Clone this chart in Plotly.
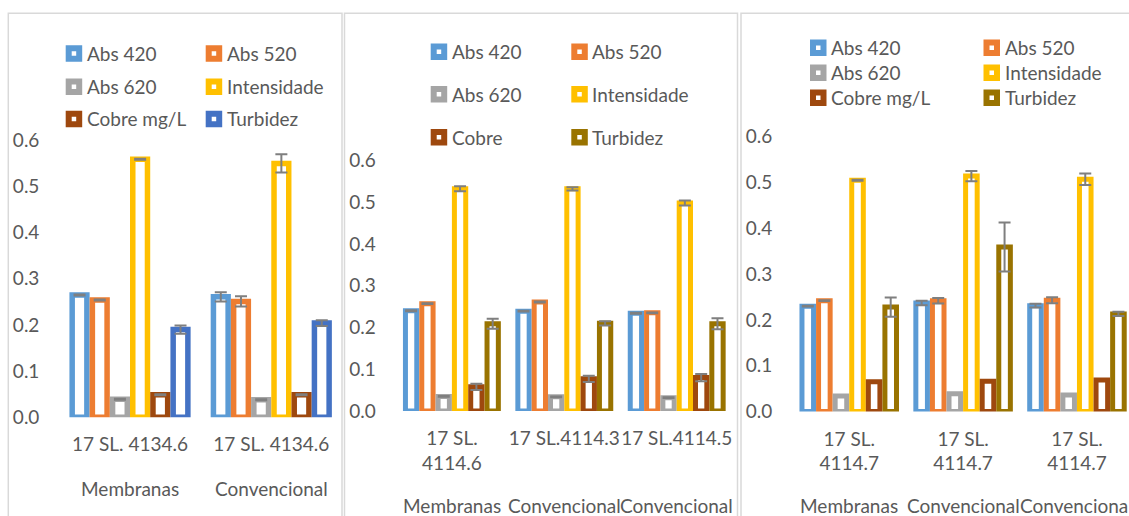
import plotly.graph_objects as go

W, H = 1129, 516

# ---- data -------------------------------------------------------------
series_names_a = ["Abs 420", "Abs 520", "Abs 620", "Intensidade", "Cobre mg/L", "Turbidez"]
series_names_b = ["Abs 420", "Abs 520", "Abs 620", "Intensidade", "Cobre", "Turbidez"]

# panel 1
samples_1 = ["17 SL. 4134.6", "17 SL. 4134.6"]
groups_1 = ["Membranas", "Convencional"]
abs420_1 = [0.265, 0.261]
abs520_1 = [0.254, 0.251]
abs620_1 = [0.039, 0.038]
intens_1 = [0.559, 0.550]
cobre_1 = [0.049, 0.049]
turb_1 = [0.190, 0.204]
abs420_err_1 = [0.001, 0.010]
abs520_err_1 = [0.001, 0.011]
abs620_err_1 = [0.001, 0.001]
intens_err_1 = [0.001, 0.020]
cobre_err_1 = [0.001, 0.001]
turb_err_1 = [0.009, 0.006]

# panel 2
samples_2 = ["17 SL.<br>4114.6", "17 SL.4114.3", "17 SL.4114.5"]
groups_2 = ["Membranas", "Convencional", "Convencional"]
abs420_2 = [0.240, 0.239, 0.234]
abs520_2 = [0.257, 0.261, 0.235]
abs620_2 = [0.035, 0.034, 0.032]
intens_2 = [0.532, 0.532, 0.498]
cobre_2 = [0.058, 0.077, 0.080]
turb_2 = [0.209, 0.210, 0.209]
abs420_err_2 = [0.001, 0.001, 0.001]
abs520_err_2 = [0.001, 0.001, 0.001]
abs620_err_2 = [0.001, 0.001, 0.001]
intens_err_2 = [0.006, 0.004, 0.006]
cobre_err_2 = [0.0075, 0.0075, 0.0085]
turb_err_2 = [0.012, 0.005, 0.013]

# panel 3
samples_3 = ["17 SL.<br>4114.7", "17 SL.<br>4114.7", "17 SL.<br>4114.7"]
groups_3 = ["Membranas", "Convencional", "Convencional"]
abs420_3 = [0.230, 0.237, 0.231]
abs520_3 = [0.242, 0.242, 0.243]
abs620_3 = [0.034, 0.039, 0.036]
intens_3 = [0.505, 0.514, 0.507]
cobre_3 = [0.065, 0.066, 0.069]
turb_3 = [0.228, 0.359, 0.213]
abs420_err_3 = [0.001, 0.005, 0.004]
abs520_err_3 = [0.001, 0.006, 0.0065]
abs620_err_3 = None
intens_err_3 = [0.001, 0.011, 0.0127]
cobre_err_3 = None
turb_err_3 = [0.021, 0.0535, 0.0047]

y_ticks = [0.0, 0.1, 0.2, 0.3, 0.4, 0.5, 0.6]

# ---- styling ----------------------------------------------------------
FONT = "Lato"
TXT = "#595959"
ERR = "#7f7f7f"
FRAME = "#d9d9d9"
colors_a = ["#5b9bd5", "#ed7d31", "#a5a5a5", "#ffc000", "#9e480e", "#4472c4"]
colors_b = ["#5b9bd5", "#ed7d31", "#a5a5a5", "#ffc000", "#9e480e", "#997300"]


def px_x(p):
    return p / W


def px_y(p):
    return 1 - p / H


panels = [
    dict(names=series_names_a, colors=colors_a, samples=samples_1, groups=groups_1,
         values=[abs420_1, abs520_1, abs620_1, intens_1, cobre_1, turb_1],
         errors=[abs420_err_1, abs520_err_1, abs620_err_1, intens_err_1, cobre_err_1, turb_err_1],
         x_px=(59.4, 341.9), x_range=[-0.5, 1.5], y_px=(417.3, 140.3),
         group_frac=0.858, lw=5.5, group_y=488,
         frame=(8.3, 342.0), legend_cols=(65.7, 205.7), legend_rows=(53.5, 86.7, 119.0)),
    dict(names=series_names_b, colors=colors_b, samples=samples_2, groups=groups_2,
         values=[abs420_2, abs520_2, abs620_2, intens_2, cobre_2, turb_2],
         errors=[abs420_err_2, abs520_err_2, abs620_err_2, intens_err_2, cobre_err_2, turb_err_2],
         x_px=(395.7, 732.9), x_range=[-0.5, 2.5], y_px=(411.0, 160.4),
         group_frac=0.871, lw=5, group_y=505.5,
         frame=(344.5, 737.5), legend_cols=(430.7, 571.3), legend_rows=(51.7, 94.3, 137.3)),
    dict(names=series_names_a, colors=colors_b, samples=samples_3, groups=groups_3,
         values=[abs420_3, abs520_3, abs620_3, intens_3, cobre_3, turb_3],
         errors=[abs420_err_3, abs520_err_3, abs620_err_3, intens_err_3, cobre_err_3, turb_err_3],
         x_px=(792.3, 1129.0), x_range=[-0.5, 2.457], y_px=(411.5, 136.7),
         group_frac=0.874, lw=5, group_y=505.5,
         frame=(741.0, 1160.0), legend_cols=(810.0, 983.5), legend_rows=(47.7, 72.7, 97.7)),
]

fig = go.Figure()
shapes = []
annotations = []
layout_axes = {}

for k, p in enumerate(panels, start=1):
    xa = "x" if k == 1 else f"x{k}"
    ya = "y" if k == 1 else f"y{k}"
    xname = "xaxis" if k == 1 else f"xaxis{k}"
    yname = "yaxis" if k == 1 else f"yaxis{k}"

    x0, x1 = p["x_px"]
    cat_px = (x1 - x0) / (p["x_range"][1] - p["x_range"][0])
    n_series = len(p["names"])
    step = p["group_frac"] / n_series
    lw_d = p["lw"] / cat_px
    bar_w = step - lw_d
    cats = list(range(len(p["samples"])))

    for i, (name, color, vals, errs) in enumerate(zip(p["names"], p["colors"], p["values"], p["errors"])):
        err = dict(type="data", array=errs, visible=errs is not None,
                   color=ERR, thickness=2, width=6)
        fig.add_trace(go.Bar(
            x=cats, y=vals, name=name,
            width=bar_w, offset=-p["group_frac"] / 2 + i * step + lw_d / 2,
            marker=dict(color="white", line=dict(color=color, width=p["lw"])),
            error_y=err, cliponaxis=False, showlegend=False, hoverinfo="skip",
            xaxis=xa, yaxis=ya,
        ))

    yb, yt = p["y_px"]
    layout_axes[xname] = dict(
        domain=[px_x(x0), px_x(x1)], range=p["x_range"], anchor=ya, automargin=False,
        tickmode="array", tickvals=cats, ticktext=p["samples"], tickangle=0,
        showgrid=False, zeroline=False, showline=False, ticks="",
        ticklabelstandoff=14, tickfont=dict(family=FONT, size=19, color=TXT),
    )
    layout_axes[yname] = dict(
        domain=[px_y(yb), px_y(yt)], range=[0, 0.6], anchor=xa, automargin=False,
        tickmode="array", tickvals=y_ticks, tickformat=".1f",
        showgrid=False, zeroline=False, showline=False, ticks="",
        ticklabelstandoff=19, tickfont=dict(family=FONT, size=19, color=TXT),
    )

    # group names under the sample labels
    for c, g in zip(cats, p["groups"]):
        annotations.append(dict(
            x=c, y=px_y(p["group_y"]), xref=xa, yref="paper", text=g,
            showarrow=False, xanchor="center", yanchor="middle",
            font=dict(family=FONT, size=19, color=TXT),
        ))

    # chart frame
    fx0, fx1 = p["frame"]
    shapes.append(dict(type="rect", xref="paper", yref="paper",
                       x0=px_x(fx0), x1=px_x(fx1), y0=px_y(540), y1=px_y(13.3),
                       line=dict(color=FRAME, width=1.5), fillcolor="rgba(0,0,0,0)", layer="below"))

    # legend in two columns
    sq = 16.5
    for i, (name, color) in enumerate(zip(p["names"], p["colors"])):
        col, row = i % 2, i // 2
        lx = p["legend_cols"][col]
        ly = p["legend_rows"][row]
        shapes.append(dict(type="rect", xref="paper", yref="paper",
                           x0=px_x(lx + 3), x1=px_x(lx + sq - 3),
                           y0=px_y(ly + sq / 2 - 3), y1=px_y(ly - sq / 2 + 3),
                           line=dict(color=color, width=6), fillcolor="white"))
        annotations.append(dict(
            x=px_x(lx + sq + 2.5), y=px_y(ly), xref="paper", yref="paper", text=name,
            showarrow=False, xanchor="left", yanchor="middle",
            font=dict(family=FONT, size=19, color=TXT),
        ))

fig.update_layout(
    width=W, height=H, autosize=False,
    margin=dict(l=0, r=0, t=0, b=0, pad=0, autoexpand=False),
    paper_bgcolor="white", plot_bgcolor="rgba(0,0,0,0)",
    barmode="overlay", showlegend=False,
    shapes=shapes, annotations=annotations,
    **layout_axes,
)

fig.write_html("out.html")
